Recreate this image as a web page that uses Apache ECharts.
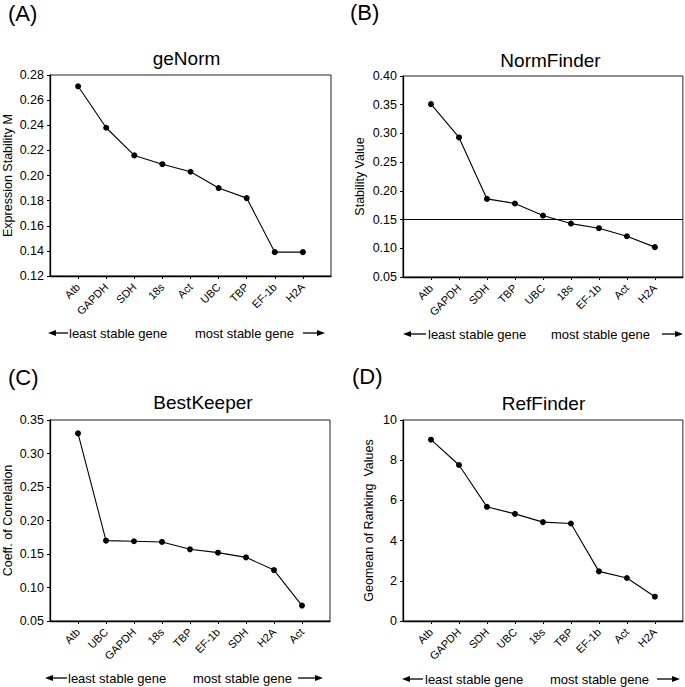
<!DOCTYPE html>
<html>
<head>
<meta charset="utf-8">
<script src="https://cdn.jsdelivr.net/npm/echarts@6/dist/echarts.min.js"></script>
<style>
html,body{margin:0;padding:0;background:#fff;}
#chart{width:685px;height:687px;}
</style>
</head>
<body>
<div id="chart"></div>
<script>
// ---- data ----
const catsA = ['Atb','GAPDH','SDH','18s','Act','UBC','TBP','EF-1b','H2A'];
const valsA = [0.271,0.238,0.216,0.209,0.203,0.190,0.182,0.139,0.139];
const catsB = ['Atb','GAPDH','SDH','TBP','UBC','18s','EF-1b','Act','H2A'];
const valsB = [0.351,0.293,0.186,0.178,0.157,0.143,0.135,0.121,0.102];
const thresholdB = 0.15;
const catsC = ['Atb','UBC','GAPDH','18s','TBP','EF-1b','SDH','H2A','Act'];
const valsC = [0.330,0.170,0.169,0.168,0.157,0.152,0.145,0.126,0.073];
const catsD = ['Atb','GAPDH','SDH','UBC','18s','TBP','EF-1b','Act','H2A'];
const valsD = [9.02,7.76,5.68,5.33,4.92,4.85,2.47,2.14,1.21];
const titles = ['geNorm','NormFinder','BestKeeper','RefFinder'];
const panelLabels = ['(A)','(B)','(C)','(D)'];
const yNames = ['Expression Stability M','Stability Value','Coeff. of Correlation','Geomean of Ranking  Values'];
const yScales = [
  {min:0.12, max:0.28, interval:0.02, dec:2},
  {min:0.05, max:0.40, interval:0.05, dec:2},
  {min:0.05, max:0.35, interval:0.05, dec:2},
  {min:0, max:10, interval:2, dec:0}
];
const leastText = 'least stable gene';
const mostText = 'most stable gene';

// ---- layout ----
const FONT = "'Liberation Sans', Arial, Helvetica, sans-serif";
const grids = [
  {left:49, top:75, width:282, height:201},
  {left:403, top:76, width:280, height:201},
  {left:49, top:420, width:281, height:201},
  {left:403, top:420, width:281, height:201}
];
const nameGaps = [36, 37, 36, 28];
const titlePos = [[186.5,58],[550.5,60],[203,402],[543.5,403]];
const labelPos = [[8,13],[350,12.5],[8,377.5],[352,376]];
const bottom = [
  {y:333, la:[48,68], lt:69, mt:195, ra:[303,325]},
  {y:334, la:[403,426], lt:428, mt:551, ra:[662,683]},
  {y:678, la:[45,67], lt:68, mt:193, ra:[298,323]},
  {y:679, la:[402,423], lt:425, mt:550, ra:[657,680]}
];

const cats = [catsA, catsB, catsC, catsD];
const vals = [valsA, valsB, valsC, valsD];
const pad = a => [''].concat(a, ['']);
const padV = a => [null].concat(a, [null]);

const xAxis = [], yAxis = [], series = [], graphic = [];
for (let i = 0; i < 4; i++) {
  xAxis.push({
    type:'category', gridIndex:i, data:pad(cats[i]), boundaryGap:false,
    axisLine:{lineStyle:{color:'#000', width:1.3}},
    axisTick:{length:3, lineStyle:{color:'#000'}, interval:(idx, v) => v !== ''},
    axisLabel:{interval:0, rotate:45, fontSize:11, fontFamily:FONT, color:'#000', margin:9},
    splitLine:{show:false}
  });
  const s = yScales[i];
  yAxis.push({
    type:'value', gridIndex:i, min:s.min, max:s.max, interval:s.interval,
    name:yNames[i], nameLocation:'middle', nameGap:nameGaps[i], nameRotate:90,
    nameTextStyle:{fontSize:12.5, fontFamily:FONT, color:'#000'},
    axisLine:{show:true, lineStyle:{color:'#000', width:1.3}},
    axisTick:{show:true, length:3, lineStyle:{color:'#000'}},
    axisLabel:{fontSize:12.5, fontFamily:FONT, color:'#000', margin:6,
      formatter: v => v.toFixed(s.dec)},
    splitLine:{show:false}
  });
  const ser = {
    type:'line', xAxisIndex:i, yAxisIndex:i, data:padV(vals[i]),
    symbol:'circle', symbolSize:6, showSymbol:true,
    itemStyle:{color:'#000'}, lineStyle:{color:'#000', width:1.1},
    animation:false, z:3
  };
  if (i === 1) {
    ser.markLine = {silent:true, symbol:['none','none'], label:{show:false},
      lineStyle:{color:'#000', type:'solid', width:1.1}, animation:false,
      data:[{yAxis:thresholdB}]};
  }
  series.push(ser);

  graphic.push({type:'text', x:titlePos[i][0], y:titlePos[i][1],
    style:{text:titles[i], font:'19px ' + FONT, fill:'#000', align:'center', verticalAlign:'middle'}});
  graphic.push({type:'text', x:labelPos[i][0], y:labelPos[i][1],
    style:{text:panelLabels[i], font:'22px ' + FONT, fill:'#000', align:'left', verticalAlign:'middle'}});
  const b = bottom[i];
  graphic.push({type:'text', x:b.lt, y:b.y,
    style:{text:leastText, font:'13px ' + FONT, fill:'#000', align:'left', verticalAlign:'middle'}});
  graphic.push({type:'text', x:b.mt, y:b.y,
    style:{text:mostText, font:'13px ' + FONT, fill:'#000', align:'left', verticalAlign:'middle'}});
  // left arrow
  graphic.push({type:'line', shape:{x1:b.la[0]+6, y1:b.y, x2:b.la[1], y2:b.y}, style:{stroke:'#000', lineWidth:1.3}});
  graphic.push({type:'polygon', shape:{points:[[b.la[0],b.y],[b.la[0]+8,b.y-3],[b.la[0]+8,b.y+3]]}, style:{fill:'#000'}});
  // right arrow
  graphic.push({type:'line', shape:{x1:b.ra[0], y1:b.y, x2:b.ra[1]-6, y2:b.y}, style:{stroke:'#000', lineWidth:1.3}});
  graphic.push({type:'polygon', shape:{points:[[b.ra[1],b.y],[b.ra[1]-8,b.y-3],[b.ra[1]-8,b.y+3]]}, style:{fill:'#000'}});
}

const chart = echarts.init(document.getElementById('chart'), null, {renderer:'svg'});
chart.setOption({
  backgroundColor:'#fff',
  animation:false,
  grid: grids.map(g => Object.assign({show:true, borderColor:'#222', borderWidth:1, backgroundColor:'transparent', containLabel:false}, g)),
  xAxis, yAxis, series, graphic,
  tooltip:{show:false}
});
</script>
</body>
</html>
